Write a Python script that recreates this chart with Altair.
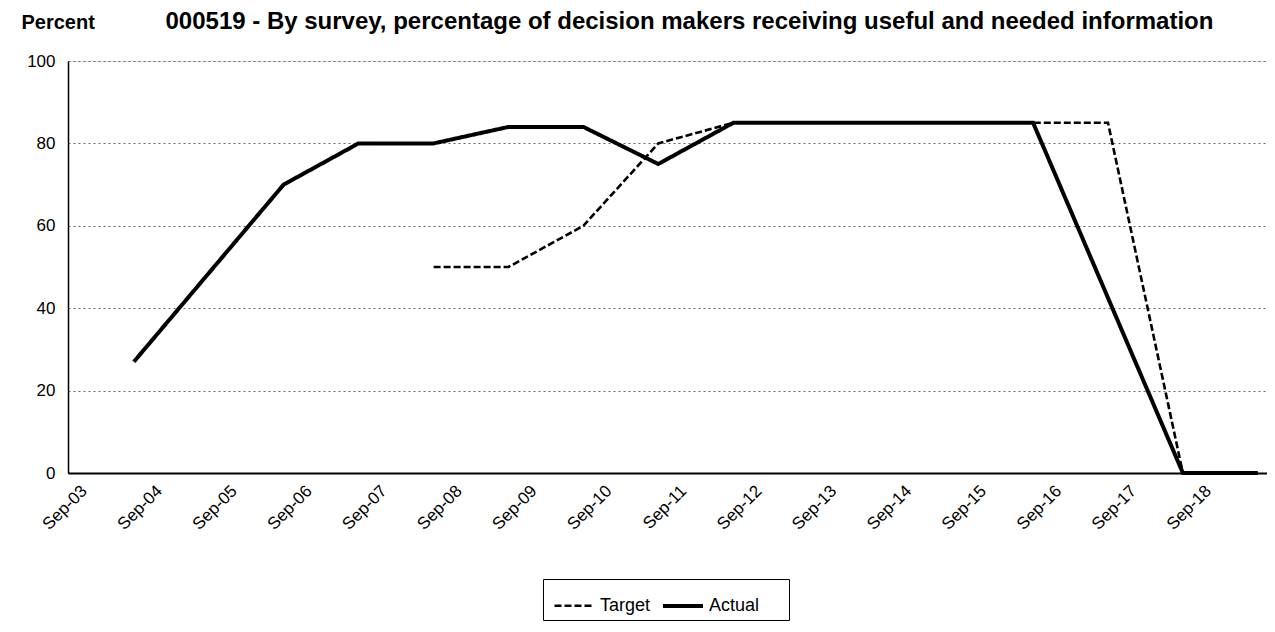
import altair as alt
import pandas as pd

# ---- data ----
series_names = ["Target", "Actual"]

target_dates = ["2008-05-01", "2009-05-01", "2010-05-01", "2011-05-01", "2012-05-01",
                "2013-05-01", "2014-05-01", "2015-05-01", "2016-05-01", "2017-05-01",
                "2018-05-01", "2019-05-01"]
target_values = [50, 50, 60, 80, 85, 85, 85, 85, 85, 85, 0, 0]

actual_dates = ["2004-05-01", "2006-05-01", "2007-05-01", "2008-05-01", "2009-05-01",
                "2010-05-01", "2011-05-01", "2012-05-01", "2013-05-01", "2014-05-01",
                "2015-05-01", "2016-05-01", "2018-05-01", "2019-05-01"]
actual_values = [27, 70, 80, 80, 84, 84, 75, 85, 85, 85, 85, 85, 0, 0]

tick_years = list(range(2003, 2019))   # Sep-03 ... Sep-18
y_ticks = [0, 20, 40, 60, 80, 100]

title_text = "000519 - By survey, percentage of decision makers receiving useful and needed information"
y_title = "Percent"

rows = []
for d, v in zip(target_dates, target_values):
    rows.append({"date": d + "T00:00:00", "value": v, "series": "Target"})
for d, v in zip(actual_dates, actual_values):
    rows.append({"date": d + "T00:00:00", "value": v, "series": "Actual"})
df = pd.DataFrame(rows)

FONT = "Liberation Sans"

x_enc = alt.X(
    "date:T",
    scale=alt.Scale(domain=[alt.DateTime(year=2003, month=6, date=15),
                            alt.DateTime(year=2019, month=6, date=15)]),
    axis=alt.Axis(
        values=[alt.DateTime(year=y, month=9, date=1) for y in tick_years],
        format="%b-%y", labelAngle=315, labelAlign="right", labelBaseline="middle",
        ticks=False, grid=False, domainColor="black", domainWidth=2,
        labelPadding=15, labelFontSize=17, labelColor="black", labelFont=FONT,
        # main heading placed above the plot through the axis title
        title=title_text, titleAngle=0, titleAlign="left", titleBaseline="alphabetic",
        titleX=97, titleY=-445, titleFontSize=24, titleFontWeight="bold",
        titleColor="black", titleFont=FONT,
    ),
)

y_scale = alt.Scale(domain=[0, 100], nice=False)

legend = alt.Legend(
    orient="none", legendX=475, legendY=518, direction="horizontal",
    symbolType="stroke", symbolSize=1600, symbolStrokeColor="black", symbolOffset=5,
    labelFontSize=18, labelColor="black", labelFont=FONT,
    strokeColor="black", fillColor="white", padding=5,
    columnPadding=4, labelOffset=4,
    title=" ", titleOrient="right", titlePadding=25, titleFontSize=18,
)

lines = alt.Chart(df).mark_line(color="black", strokeCap="butt", strokeJoin="miter").encode(
    x=x_enc,
    y=alt.Y(
        "value:Q", scale=y_scale,
        axis=alt.Axis(
            values=y_ticks, ticks=False, grid=True, gridColor="#666666",
            gridDash=[2, 3], gridWidth=1, domainColor="black", domainWidth=1.5,
            labelPadding=13, labelFontSize=17, labelColor="black", labelFont=FONT,
            title=y_title, titleAngle=0, titleAlign="left", titleBaseline="alphabetic",
            titleX=-47, titleY=-33, titleFontSize=20, titleFontWeight="bold",
            titleColor="black", titleFont=FONT,
        ),
    ),
    strokeDash=alt.StrokeDash(
        "series:N",
        scale=alt.Scale(domain=series_names, range=[[7, 3], [1, 0]]),
        legend=legend,
    ),
    strokeWidth=alt.StrokeWidth(
        "series:N",
        scale=alt.Scale(domain=series_names, range=[2.6, 4]),
        legend=legend,
    ),
)

right_frame = alt.Chart(df).mark_point(opacity=0).encode(
    x=x_enc,
    y=alt.Y(
        "value:Q", scale=y_scale,
        axis=alt.Axis(orient="right", labels=False, ticks=False, grid=False,
                      domainColor="#808080", domainWidth=1, title=None),
    ),
)

chart = alt.layer(lines, right_frame).resolve_axis(y="independent").properties(
    width=1199, height=412,
    autosize=alt.AutoSizeParams(type="none"),
    padding={"left": 60, "top": 53, "right": 0, "bottom": 151},
).configure_view(stroke=None).configure(font=FONT, background="white")

chart.save("out.html", embed_options={"renderer": "svg", "actions": False})
